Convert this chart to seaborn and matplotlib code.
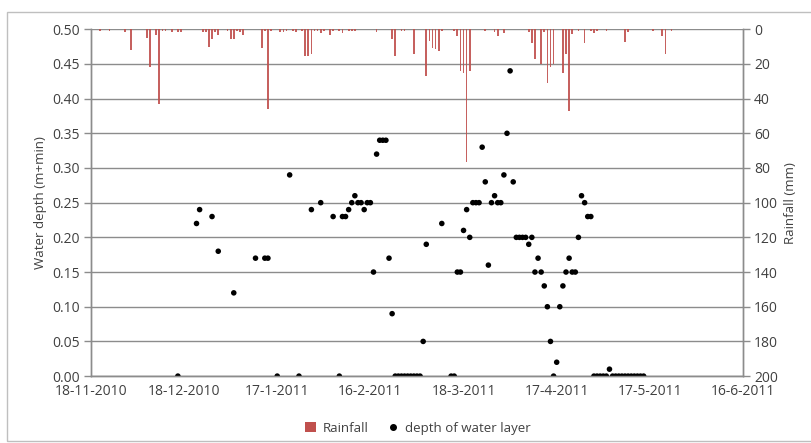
import matplotlib
matplotlib.use('Agg')
import matplotlib.pyplot as plt
from matplotlib.patches import Patch, Rectangle
from matplotlib.lines import Line2D
import seaborn as sns
import pandas as pd

# depth of water layer (m)
depth_dates = ['2010-12-16', '2010-12-22', '2010-12-23', '2010-12-27', '2010-12-29',
               '2011-01-03', '2011-01-10', '2011-01-13', '2011-01-14', '2011-01-17',
               '2011-01-21', '2011-01-24', '2011-01-28', '2011-01-31', '2011-02-04',
               '2011-02-06', '2011-02-07', '2011-02-08', '2011-02-09', '2011-02-10',
               '2011-02-11', '2011-02-12', '2011-02-13', '2011-02-14', '2011-02-15',
               '2011-02-16', '2011-02-17', '2011-02-18', '2011-02-19', '2011-02-20',
               '2011-02-21', '2011-02-22', '2011-02-23', '2011-02-24', '2011-02-25',
               '2011-02-26', '2011-02-27', '2011-02-28', '2011-03-01', '2011-03-02',
               '2011-03-03', '2011-03-04', '2011-03-05', '2011-03-06', '2011-03-11',
               '2011-03-14', '2011-03-15', '2011-03-16', '2011-03-17', '2011-03-18',
               '2011-03-19', '2011-03-20', '2011-03-21', '2011-03-22', '2011-03-23',
               '2011-03-24', '2011-03-25', '2011-03-26', '2011-03-27', '2011-03-28',
               '2011-03-29', '2011-03-30', '2011-03-31', '2011-04-01', '2011-04-02',
               '2011-04-03', '2011-04-04', '2011-04-05', '2011-04-06', '2011-04-07',
               '2011-04-08', '2011-04-09', '2011-04-10', '2011-04-11', '2011-04-12',
               '2011-04-13', '2011-04-14', '2011-04-15', '2011-04-16', '2011-04-17',
               '2011-04-18', '2011-04-19', '2011-04-20', '2011-04-21', '2011-04-22',
               '2011-04-23', '2011-04-24', '2011-04-25', '2011-04-26', '2011-04-27',
               '2011-04-28', '2011-04-29', '2011-04-30', '2011-05-01', '2011-05-02',
               '2011-05-03', '2011-05-04', '2011-05-05', '2011-05-06', '2011-05-07',
               '2011-05-08', '2011-05-09', '2011-05-10', '2011-05-11', '2011-05-12',
               '2011-05-13', '2011-05-14', '2011-05-15']
depth = [0.00, 0.22, 0.24, 0.23, 0.18,
         0.12, 0.17, 0.17, 0.17, 0.00,
         0.29, 0.00, 0.24, 0.25, 0.23,
         0.00, 0.23, 0.23, 0.24, 0.25,
         0.26, 0.25, 0.25, 0.24, 0.25,
         0.25, 0.15, 0.32, 0.34, 0.34,
         0.34, 0.17, 0.09, 0.00, 0.00,
         0.00, 0.00, 0.00, 0.00, 0.00,
         0.00, 0.00, 0.05, 0.19, 0.22,
         0.00, 0.00, 0.15, 0.15, 0.21,
         0.24, 0.20, 0.25, 0.25, 0.25,
         0.33, 0.28, 0.16, 0.25, 0.26,
         0.25, 0.25, 0.29, 0.35, 0.44,
         0.28, 0.20, 0.20, 0.20, 0.20,
         0.19, 0.20, 0.15, 0.17, 0.15,
         0.13, 0.10, 0.05, 0.00, 0.02,
         0.10, 0.13, 0.15, 0.17, 0.15,
         0.15, 0.20, 0.26, 0.25, 0.23,
         0.23, 0.00, 0.00, 0.00, 0.00,
         0.00, 0.01, 0.00, 0.00, 0.00,
         0.00, 0.00, 0.00, 0.00, 0.00,
         0.00, 0.00, 0.00]

# daily rainfall (mm)
rain_dates = ['2010-11-21', '2010-11-24', '2010-11-29', '2010-12-01', '2010-12-06',
              '2010-12-07', '2010-12-09', '2010-12-10', '2010-12-11', '2010-12-12',
              '2010-12-14', '2010-12-16', '2010-12-17', '2010-12-24', '2010-12-25',
              '2010-12-26', '2010-12-27', '2010-12-28', '2010-12-29', '2011-01-01',
              '2011-01-02', '2011-01-03', '2011-01-04', '2011-01-05', '2011-01-06',
              '2011-01-12', '2011-01-13', '2011-01-14', '2011-01-15', '2011-01-18',
              '2011-01-19', '2011-01-20', '2011-01-22', '2011-01-23', '2011-01-25',
              '2011-01-26', '2011-01-27', '2011-01-28', '2011-01-29', '2011-01-30',
              '2011-01-31', '2011-02-01', '2011-02-03', '2011-02-04', '2011-02-06',
              '2011-02-07', '2011-02-09', '2011-02-10', '2011-02-11', '2011-02-18',
              '2011-02-23', '2011-02-24', '2011-02-26', '2011-02-27', '2011-03-02',
              '2011-03-06', '2011-03-07', '2011-03-08', '2011-03-09', '2011-03-10',
              '2011-03-11', '2011-03-15', '2011-03-16', '2011-03-17', '2011-03-18',
              '2011-03-19', '2011-03-20', '2011-03-25', '2011-03-28', '2011-03-29',
              '2011-03-31', '2011-04-08', '2011-04-09', '2011-04-10', '2011-04-12',
              '2011-04-13', '2011-04-14', '2011-04-15', '2011-04-16', '2011-04-19',
              '2011-04-20', '2011-04-21', '2011-04-22', '2011-04-24', '2011-04-26',
              '2011-04-28', '2011-04-29', '2011-04-30', '2011-05-03', '2011-05-09',
              '2011-05-10', '2011-05-18', '2011-05-21', '2011-05-22', '2011-05-24']
rain = [1, 1, 1.5, 12, 5,
        22, 3.5, 43, 1, 1,
        1.5, 1.5, 1.5, 1.5, 1.5,
        10, 5.5, 1.5, 3.5, 1,
        5.5, 5.5, 1, 1.5, 3.5,
        11, 1, 46, 1, 1.5,
        1.5, 1, 1, 1.5, 1,
        15.5, 15.5, 14, 1, 1,
        2, 1, 3.5, 1, 1,
        2, 1, 1, 1, 1.5,
        5.5, 15.5, 1, 1, 14.5,
        27, 6.5, 11, 11.5, 12.5,
        1, 1, 4, 24, 25.5,
        76.5, 24, 1, 1.5, 4,
        2, 1.5, 8, 17, 20,
        1.5, 31, 21.5, 20, 25.5,
        14, 47, 2.5, 1, 8,
        1, 2, 1, 1, 7.5,
        1.5, 1, 4, 14, 1]

tick_labels = ['18-11-2010', '18-12-2010', '17-1-2011', '16-2-2011',
               '18-3-2011', '17-4-2011', '17-5-2011', '16-6-2011']

df_depth = pd.DataFrame({'date': pd.to_datetime(depth_dates), 'depth': depth})
df_rain = pd.DataFrame({'date': pd.to_datetime(rain_dates), 'rain': rain})
ticks = pd.to_datetime(tick_labels, format='%d-%m-%Y')

sns.set_style('white')
plt.rcParams['font.family'] = ['Open Sans', 'DejaVu Sans']
txt = '#404040'
grid_c = '#8c8c8c'
red = '#C0504D'

fig = plt.figure(figsize=(8.12, 4.43), dpi=100)
ax = fig.add_axes([0.112, 0.151, 0.803, 0.783])
ax2 = ax.twinx()

sns.scatterplot(data=df_depth, x='date', y='depth', ax=ax, color='black',
                s=16, edgecolor='none', zorder=3)
ax2.bar(df_rain['date'], df_rain['rain'], width=0.55, color=red,
        alpha=0.9, linewidth=0)

ax.set_ylim(0, 0.5)
ax.set_yticks([i * 0.05 for i in range(11)])
ax.set_yticklabels([f'{i * 0.05:.2f}' for i in range(11)])
ax2.set_ylim(200, 0)
ax2.set_yticks(range(0, 201, 20))
ax.set_xlim(ticks[0], ticks[-1])
ax.set_xticks(ticks)
ax.set_xticklabels(tick_labels)
ax.grid(axis='y', color=grid_c, linewidth=1)
ax.set_axisbelow(True)

ax.set_xlabel('')
ax.set_ylabel('Water depth (m+min)', fontsize=9.5, color=txt)
ax2.set_ylabel('Rainfall (mm)', fontsize=9.5, color=txt, labelpad=4)

for a in (ax, ax2):
    for side in ['top', 'left', 'right', 'bottom']:
        a.spines[side].set_color(grid_c)
        a.spines[side].set_linewidth(1)
    a.spines['top'].set_visible(False)
    a.tick_params(axis='y', direction='out', length=5, width=1, color=grid_c,
                  labelsize=10, labelcolor=txt, pad=3)
ax.tick_params(axis='x', direction='out', length=3, width=1, color=grid_c,
               labelsize=10, labelcolor=txt, pad=3)

handles = [Patch(facecolor=red, edgecolor='none', label='Rainfall'),
           Line2D([], [], marker='o', color='black', linestyle='none',
                  markersize=4, label='depth of water layer')]
fig.legend(handles=handles, loc='center', bbox_to_anchor=(0.515, 0.033), ncol=2,
           frameon=False, fontsize=9.5, handlelength=0.8, handleheight=0.8,
           columnspacing=1.5, handletextpad=0.5, labelcolor=txt)

fig.patches.append(Rectangle((7 / 812, 0.005), 1.2, 1 - 12 / 443 - 0.005,
                             transform=fig.transFigure, fill=False,
                             edgecolor='#bfbfbf', linewidth=1))

fig.savefig('out.png', dpi=100)
